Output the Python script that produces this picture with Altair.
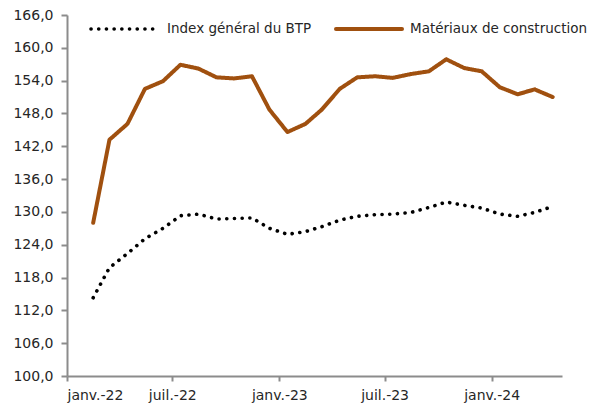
import altair as alt
import pandas as pd

months = [
    "2022-02-15", "2022-03-15", "2022-04-15", "2022-05-15", "2022-06-15", "2022-07-15",
    "2022-08-15", "2022-09-15", "2022-10-15", "2022-11-15", "2022-12-15", "2023-01-15",
    "2023-02-15", "2023-03-15", "2023-04-15", "2023-05-15", "2023-06-15", "2023-07-15",
    "2023-08-15", "2023-09-15", "2023-10-15", "2023-11-15", "2023-12-15", "2024-01-15",
    "2024-02-15", "2024-03-15", "2024-04-15",
]
btp = [114.3, 119.8, 122.4, 125.1, 127.0, 129.3, 129.6, 128.7, 128.8, 128.9, 127.0, 125.9,
       126.4, 127.3, 128.5, 129.2, 129.5, 129.6, 129.9, 130.8, 131.8, 131.2, 130.7, 129.6,
       129.2, 129.9, 131.0]
materiaux = [128.0, 143.2, 146.1, 152.5, 153.9, 156.9, 156.2, 154.6, 154.4, 154.8, 148.7, 144.6,
             146.1, 148.7, 152.5, 154.6, 154.8, 154.5, 155.2, 155.7, 157.9, 156.3, 155.7, 152.8,
             151.5, 152.4, 151.0]
series = ["Index général du BTP", "Matériaux de construction"]
y_ticks = [100, 106, 112, 118, 124, 130, 136, 142, 148, 154, 160, 166]

df = pd.concat([
    pd.DataFrame({"date": months, "value": btp, "serie": series[0]}),
    pd.DataFrame({"date": months, "value": materiaux, "serie": series[1]}),
])

FONT = "DejaVu Sans"
FS = 14
LFS = 13.5
GRAY = "#8c8c8c"
TXT = "#262626"
BROWN = "#A0500F"
DOT = [0.1, 7.6]

x_ticks = [alt.DateTime(year=y, month=m, date=1, utc=True)
           for (y, m) in [(2022, 1), (2022, 7), (2023, 1), (2023, 7), (2024, 1)]]

lines = alt.Chart(df).mark_line(strokeCap="round", strokeJoin="round").encode(
    x=alt.X("date:T",
            scale=alt.Scale(type="utc",
                            domain=[alt.DateTime(year=2022, month=1, date=1, utc=True),
                                    alt.DateTime(year=2024, month=5, date=1, utc=True)]),
            axis=alt.Axis(title=None, values=x_ticks, grid=False,
                          labelExpr="(utcmonth(datum.value)==0 ? 'janv.-' : 'juil.-') + utcFormat(datum.value, '%y')",
                          labelPadding=7, tickSize=5)),
    y=alt.Y("value:Q",
            scale=alt.Scale(domain=[100, 166], nice=False, zero=False),
            axis=alt.Axis(title=None, values=y_ticks, grid=False,
                          labelExpr="replace(format(datum.value, '.1f'), '.', ',')",
                          labelPadding=8, tickSize=6)),
    color=alt.Color("serie:N", scale=alt.Scale(domain=series, range=["#000000", BROWN]), legend=None),
    strokeDash=alt.StrokeDash("serie:N", scale=alt.Scale(domain=series, range=[DOT, [1, 0]]),
                              legend=None),
    strokeWidth=alt.StrokeWidth("serie:N", scale=alt.Scale(domain=series, range=[3.6, 4.0]),
                                legend=None),
)

leg1_df = pd.DataFrame({"label": [series[0]]})
leg2_df = pd.DataFrame({"label": [series[1]]})
LY = 14

leg1_sym = alt.Chart(leg1_df).mark_rule(color="#000000", strokeWidth=3.6, strokeCap="round",
                                        strokeDash=DOT).encode(
    x=alt.value(24), x2=alt.value(90), y=alt.value(LY))
leg1_txt = alt.Chart(leg1_df).mark_text(align="left", baseline="middle", font=FONT, fontSize=LFS,
                                        color=TXT).encode(
    x=alt.value(100), y=alt.value(LY), text="label:N")
leg2_sym = alt.Chart(leg2_df).mark_rule(color=BROWN, strokeWidth=4, strokeCap="round").encode(
    x=alt.value(269), x2=alt.value(335), y=alt.value(LY))
leg2_txt = alt.Chart(leg2_df).mark_text(align="left", baseline="middle", font=FONT, fontSize=LFS,
                                        color=TXT).encode(
    x=alt.value(343), y=alt.value(LY), text="label:N")

chart = alt.layer(lines, leg1_sym, leg1_txt, leg2_sym, leg2_txt).properties(
    width=495, height=361,
    autosize=alt.AutoSizeParams(type="none"),
    padding={"left": 59, "top": 7, "right": 30, "bottom": 30},
).configure_axis(
    domainColor=GRAY, domainWidth=2, tickColor=GRAY, tickWidth=2,
    labelFont=FONT, labelFontSize=FS, labelColor=TXT,
).configure_view(stroke=None)

chart.save("out.html", embed_options={"renderer": "svg", "actions": False})
